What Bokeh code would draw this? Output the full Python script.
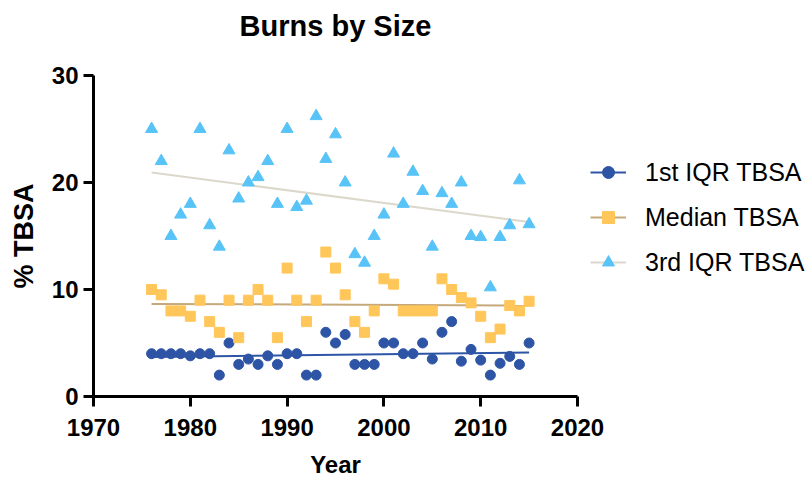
import numpy as np
from bokeh.plotting import figure
from bokeh.models import (Range1d, Title, Legend, LegendItem, FixedTicker,
                          ColumnDataSource)
from bokeh.embed import file_html
from bokeh.resources import INLINE

# ---------------- data ----------------
years = [1976, 1977, 1978, 1979, 1980, 1981, 1982, 1983, 1984, 1985,
         1986, 1987, 1988, 1989, 1990, 1991, 1992, 1993, 1994, 1995,
         1996, 1997, 1998, 1999, 2000, 2001, 2002, 2003, 2004, 2005,
         2006, 2007, 2008, 2009, 2010, 2011, 2012, 2013, 2014, 2015]

first_iqr = [4.0, 4.0, 4.0, 4.0, 3.8, 4.0, 4.0, 2.0, 5.0, 3.0,
             3.5, 3.0, 3.8, 3.0, 4.0, 4.0, 2.0, 2.0, 6.0, 5.0,
             5.8, 3.0, 3.0, 3.0, 5.0, 5.0, 4.0, 4.0, 5.0, 3.5,
             6.0, 7.0, 3.3, 4.4, 3.4, 2.0, 3.1, 3.75, 3.0, 5.0]

median = [10.0, 9.5, 8.0, 8.0, 7.5, 9.0, 7.0, 6.0, 9.0, 5.5,
          9.0, 10.0, 9.0, 5.5, 12.0, 9.0, 7.0, 9.0, 13.5, 12.0,
          9.5, 7.0, 6.0, 8.0, 11.0, 10.5, 8.0, 8.0, 8.0, 8.0,
          11.0, 10.0, 9.25, 8.75, 7.5, 5.5, 6.3, 8.5, 8.0, 8.9]

third_iqr = [25.0, 22.0, 15.0, 17.0, 18.0, 25.0, 16.0, 14.0, 23.0, 18.5,
             20.0, 20.5, 22.0, 18.0, 25.0, 17.7, 18.3, 26.2, 22.2, 24.5,
             20.0, 13.3, 12.5, 15.0, 17.0, 22.7, 18.0, 21.0, 19.2, 14.0,
             19.0, 18.0, 20.0, 15.0, 14.9, 10.2, 14.9, 16.0, 20.2, 16.1]

series_names = ["1st IQR TBSA", "Median TBSA", "3rd IQR TBSA"]
x_ticks = [1970, 1980, 1990, 2000, 2010, 2020]
y_ticks = [0, 10, 20, 30]

FONT = "Liberation Sans"

p = figure(frame_width=484, frame_height=321,
           min_border_left=93, min_border_right=234,
           min_border_top=75, min_border_bottom=84,
           x_range=Range1d(1970, 2020), y_range=Range1d(0, 30),
           output_backend="svg", toolbar_location=None)
p.outline_line_color = None
p.xgrid.visible = False
p.ygrid.visible = False
p.background_fill_color = "white"
p.border_fill_color = "white"

for ax in (p.xaxis[0], p.yaxis[0]):
    ax.axis_line_width = 3
    ax.axis_line_color = "black"
    ax.major_tick_line_width = 3
    ax.major_tick_line_color = "black"
    ax.major_tick_out = 10
    ax.major_tick_in = 0
    ax.minor_tick_line_color = None
    ax.major_label_text_font = FONT
    ax.major_label_text_font_style = "bold"
    ax.major_label_text_font_size = "24px"
    ax.major_label_text_color = "black"
    ax.axis_label_text_font = FONT
    ax.axis_label_text_font_style = "bold"
    ax.axis_label_text_color = "black"

p.xaxis.ticker = FixedTicker(ticks=x_ticks)
p.yaxis.ticker = FixedTicker(ticks=y_ticks)
p.xaxis.axis_label = "Year"
p.xaxis.axis_label_text_font_size = "24px"
p.xaxis.major_label_standoff = 12
p.xaxis.axis_label_standoff = 12
p.yaxis.axis_label = "% TBSA"
p.yaxis.axis_label_text_font_size = "27px"
p.yaxis.major_label_standoff = 5
p.yaxis.axis_label_standoff = 10

colors_pt = ["#2E55A5", "#FFC65A", "#58C3F7"]
colors_ln = ["#2E55A5", "#C6A97B", "#DCD8CC"]
markers = ["circle", "square", "triangle"]
sizes = [10, 10, 12]

items = []
for name, vals, cp, cl, mk, sz in zip(series_names,
                                      [first_iqr, median, third_iqr],
                                      colors_pt, colors_ln, markers, sizes):
    xs = np.array(years, dtype=float)
    ys = np.array(vals, dtype=float)
    slope, icpt = np.polyfit(xs, ys, 1)
    fx = [xs.min(), xs.max()]
    fy = [slope * fx[0] + icpt, slope * fx[1] + icpt]
    ln = p.line(fx, fy, line_color=cl, line_width=2)
    src = ColumnDataSource(dict(x=years, y=vals))
    sc = p.scatter("x", "y", source=src, marker=mk, size=sz,
                   fill_color=cp, line_color=cp)
    items.append((name, ln, sc))

legend = Legend(items=[LegendItem(label=n, renderers=[l, s]) for n, l, s in items],
                location=(13, 119), orientation="vertical",
                label_text_font=FONT, label_text_font_size="25px",
                label_text_color="black",
                glyph_width=36, glyph_height=30, label_height=30,
                label_standoff=19, spacing=15, padding=0, margin=0,
                border_line_color=None, background_fill_alpha=0)
p.add_layout(legend, "right")

# spacer (closest to the frame) then the main title above it
spacer = Title(text=" ", text_font=FONT, text_font_size="16px")
p.add_layout(spacer, "above")
title = Title(text="Burns by Size", align="center",
              text_font=FONT, text_font_style="bold", text_font_size="29px",
              text_color="black")
p.add_layout(title, "above")

open("out.html", "w").write(file_html(p, INLINE))
